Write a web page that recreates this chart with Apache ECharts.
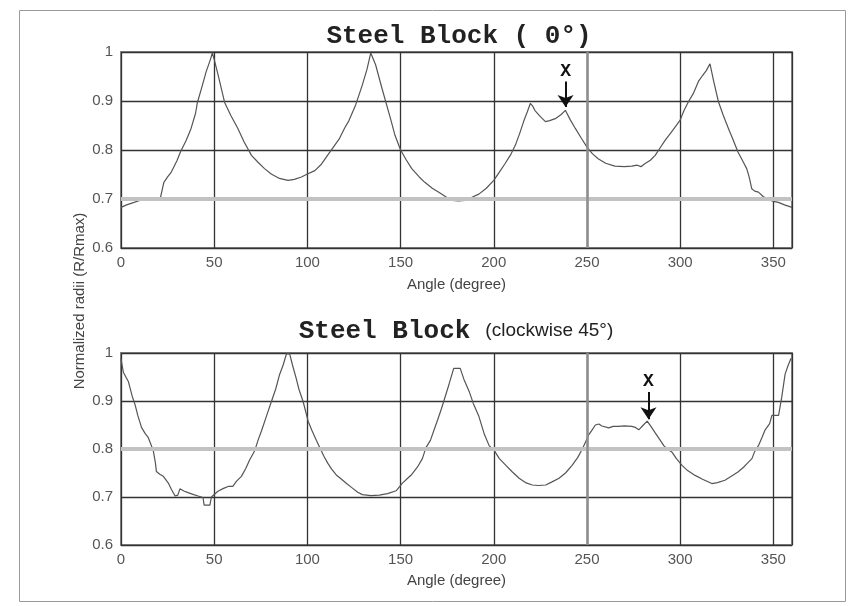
<!DOCTYPE html>
<html>
<head>
<meta charset="utf-8">
<script src="https://cdn.jsdelivr.net/npm/echarts@6/dist/echarts.min.js"></script>
<style>
  html, body { margin: 0; padding: 0; background: #fff; }
  #chart { width: 860px; height: 606px; }
</style>
</head>
<body>
<div id="chart"></div>
<script>
// Normalized radius profiles of a steel block, sampled against angle (degrees)
const topAngle = [0, 3, 7, 10, 12, 14, 16, 18, 21, 22, 23, 25, 27, 30, 32, 35, 37.6, 40, 41, 43.5, 45.7, 48, 49,
  50, 52, 55.6, 59, 62.7, 66, 70, 73.5, 77, 80.6, 85, 89.6, 93, 96.8, 100, 104, 107.5, 111, 114.7, 117, 120,
  122.3, 125.9, 129.5, 132, 134, 136.6, 140, 144.6, 147, 150, 153, 156, 160, 163, 167, 170.5, 174, 177.7, 181,
  184.8, 188, 192, 196, 200, 203, 206, 209, 211.6, 214, 216, 218, 219.6, 221, 222, 225, 227.7, 230, 233, 236,
  238.4, 241, 243.75, 247, 250, 253, 256, 260, 265, 270, 274, 277, 279, 281, 284, 286.6, 289, 292, 296, 300,
  302, 304.5, 307, 309.8, 312, 314, 316, 318, 320.5, 323, 325.9, 328.5, 331, 333.5, 335.7, 337, 338.4, 340,
  342, 344.5, 347, 350, 352.7, 356, 360];
const topRadius = [0.683, 0.688, 0.693, 0.697, 0.699, 0.697, 0.700, 0.697, 0.700, 0.703, 0.734, 0.745, 0.755,
  0.778, 0.797, 0.820, 0.844, 0.875, 0.897, 0.930, 0.960, 0.985, 0.998, 0.985, 0.955, 0.897, 0.870, 0.844,
  0.817, 0.789, 0.775, 0.762, 0.751, 0.742, 0.738, 0.740, 0.745, 0.751, 0.758, 0.771, 0.790, 0.810, 0.822,
  0.845, 0.860, 0.892, 0.933, 0.965, 0.998, 0.974, 0.926, 0.864, 0.830, 0.800, 0.780, 0.762, 0.745, 0.734,
  0.722, 0.714, 0.705, 0.697, 0.696, 0.697, 0.703, 0.710, 0.722, 0.738, 0.755, 0.772, 0.790, 0.810, 0.835,
  0.858, 0.878, 0.895, 0.889, 0.881, 0.868, 0.858, 0.860, 0.864, 0.872, 0.881, 0.862, 0.844, 0.824, 0.806,
  0.792, 0.782, 0.773, 0.767, 0.766, 0.767, 0.769, 0.766, 0.772, 0.779, 0.789, 0.803, 0.820, 0.840, 0.861,
  0.880, 0.899, 0.915, 0.940, 0.952, 0.962, 0.976, 0.940, 0.899, 0.872, 0.844, 0.820, 0.796, 0.778, 0.762,
  0.745, 0.721, 0.716, 0.714, 0.705, 0.700, 0.695, 0.693, 0.688, 0.683];

const bottomAngle = [0, 1.25, 4, 6, 7.5, 9, 11, 13, 14.6, 17.3, 18.5, 19, 21, 22.7, 25.4, 27, 29, 30.5, 31.6,
  34, 36, 39, 41.4, 44, 44.6, 47.7, 48.5, 49, 52, 55, 57.5, 60, 62, 64.6, 67, 69, 71.8, 73.5, 75.4, 78, 80.7,
  83, 85, 87, 88.75, 90.5, 92, 94, 95.5, 97.7, 100.4, 102.5, 104.8, 107, 109, 111, 113, 115.5, 118, 121, 124,
  127, 129.5, 134, 138.6, 143, 147.6, 151, 153.5, 156, 159, 161.7, 163.6, 166, 168, 170, 172, 174, 176, 178.5,
  182, 184, 186.8, 189, 192, 195, 197.5, 200.2, 203, 206.5, 210, 213.6, 217, 220.7, 224, 227.9, 231, 235,
  238.5, 242, 245, 247.5, 249.3, 251, 252.8, 254.5, 256.4, 258, 261.7, 264, 267, 270, 274, 276, 277.8, 280,
  282.3, 284.5, 286.7, 289, 291.2, 293, 295.7, 298, 301, 304, 308, 312, 317, 320, 324, 327, 331, 334, 336,
  338.5, 340, 342, 344, 345.6, 348, 349.2, 352.8, 354.5, 356.3, 358, 359.5];
const bottomRadius = [0.988, 0.960, 0.940, 0.910, 0.893, 0.870, 0.845, 0.832, 0.824, 0.797, 0.770, 0.753,
  0.747, 0.743, 0.729, 0.716, 0.702, 0.704, 0.717, 0.712, 0.709, 0.705, 0.702, 0.699, 0.683, 0.683, 0.700,
  0.702, 0.712, 0.718, 0.722, 0.722, 0.733, 0.743, 0.760, 0.777, 0.797, 0.818, 0.838, 0.868, 0.899, 0.925,
  0.954, 0.975, 0.998, 0.998, 0.975, 0.947, 0.924, 0.899, 0.858, 0.838, 0.818, 0.800, 0.784, 0.770, 0.758,
  0.746, 0.738, 0.728, 0.719, 0.710, 0.705, 0.703, 0.704, 0.707, 0.713, 0.729, 0.738, 0.747, 0.762, 0.780,
  0.803, 0.818, 0.840, 0.862, 0.885, 0.910, 0.935, 0.968, 0.968, 0.945, 0.920, 0.895, 0.868, 0.830, 0.807,
  0.797, 0.780, 0.766, 0.752, 0.739, 0.730, 0.725, 0.724, 0.725, 0.731, 0.739, 0.750, 0.766, 0.782, 0.800,
  0.815, 0.830, 0.840, 0.850, 0.852, 0.848, 0.844, 0.847, 0.847, 0.848, 0.847, 0.845, 0.840, 0.849, 0.858,
  0.846, 0.833, 0.820, 0.807, 0.800, 0.793, 0.780, 0.766, 0.755, 0.745, 0.737, 0.728, 0.730, 0.735, 0.742,
  0.752, 0.762, 0.770, 0.780, 0.795, 0.807, 0.825, 0.840, 0.853, 0.870, 0.870, 0.908, 0.956, 0.975, 0.989];

// Marked position "X" on each profile: [angle, arrow tail radius, arrow tip radius]
const topMark = [238.5, 0.94, 0.888];
const bottomMark = [283, 0.919, 0.862];

const xTicks = { min: 0, max: 360, interval: 50 };
const yTicks = { min: 0.6, max: 1, interval: 0.1 };

const sans = "'Liberation Sans', Arial, sans-serif";
const mono = "'Courier New', 'Liberation Mono', monospace";

function pairs(xs, ys) { return xs.map((x, i) => [x, ys[i]]); }

function xAxisFor(gridIndex, nameGap) {
  return {
    type: 'value', gridIndex, min: xTicks.min, max: xTicks.max, interval: xTicks.interval,
    name: 'Angle (degree)', nameLocation: 'middle', nameGap,
    nameTextStyle: { fontFamily: sans, fontSize: 15, color: '#444' },
    axisLine: { show: false }, axisTick: { show: false },
    axisLabel: { showMaxLabel: false, margin: 7, fontFamily: sans, fontSize: 15, color: '#555' },
    splitLine: { show: true, lineStyle: { color: '#333', width: 1.3 } }
  };
}
function yAxisFor(gridIndex) {
  return {
    type: 'value', gridIndex, min: yTicks.min, max: yTicks.max, interval: yTicks.interval,
    axisLine: { show: false }, axisTick: { show: false },
    axisLabel: { margin: 8, fontFamily: sans, fontSize: 15, color: '#555',
      formatter: v => String(Math.round(v * 10) / 10) },
    splitLine: { show: true, lineStyle: { color: '#333', width: 1.3 } }
  };
}

// Light band on one horizontal grid line, grey 250° line, and the "X" arrow
function markLinesFor(mark, bandY) {
  const xLabel = { show: true, formatter: 'X', position: 'start', distance: 1,
    fontFamily: mono, fontWeight: 'bold', fontSize: 18, color: '#111' };
  return {
    silent: true, symbol: 'none', animation: false,
    label: { show: false },
    data: [
      { yAxis: bandY, lineStyle: { color: '#c2c2c2', width: 4, type: 'solid' } },
      { xAxis: 250, lineStyle: { color: '#8e8e8e', width: 2.5, type: 'solid' } },
      [
        { coord: [mark[0], mark[1]], symbol: 'none', label: xLabel },
        { coord: [mark[0], mark[2]], symbol: 'arrow', symbolSize: 12, label: xLabel }
      ]
    ],
    lineStyle: { color: '#111', width: 2, type: 'solid' }
  };
}

const chart = echarts.init(document.getElementById('chart'), null, { renderer: 'canvas' });
chart.setOption({
  animation: false,
  backgroundColor: '#fff',
  title: [
    { text: 'Steel Block ( 0°)', left: 454, top: 18, textAlign: 'center',
      textStyle: { fontFamily: mono, fontWeight: 'bold', fontSize: 26, color: '#222' } },
    { text: '{a|Steel Block}   {b|(clockwise 45°)}', left: 451, top: 313, textAlign: 'center',
      textStyle: { fontWeight: 'normal', rich: {
        a: { fontFamily: mono, fontWeight: 'bold', fontSize: 26, color: '#222' },
        b: { fontFamily: sans, fontWeight: 'normal', fontSize: 19, color: '#222' } } } }
  ],
  graphic: [
    { type: 'rect', left: 17, top: 8, shape: { width: 826, height: 591 },
      style: { fill: 'none', stroke: '#9a9a9a', lineWidth: 1 }, silent: true, z: -1 },
    { type: 'text', x: 80, y: 301, rotation: Math.PI / 2, silent: true,
      style: { text: 'Normalized radii (R/Rmax)', fontFamily: sans, fontSize: 15, fill: '#444',
        textAlign: 'center', textVerticalAlign: 'middle' } }
  ],
  grid: [
    { left: 121, top: 52, width: 671, height: 196, show: true, borderColor: '#8a8a8a', borderWidth: 2 },
    { left: 121, top: 353, width: 671, height: 192, show: true, borderColor: '#8a8a8a', borderWidth: 2 }
  ],
  xAxis: [xAxisFor(0, 29), xAxisFor(1, 28)],
  yAxis: [yAxisFor(0), yAxisFor(1)],
  series: [
    { type: 'line', xAxisIndex: 0, yAxisIndex: 0, data: pairs(topAngle, topRadius),
      showSymbol: false, lineStyle: { color: '#555', width: 1.2 }, z: 3,
      markLine: markLinesFor(topMark, 0.7) },
    { type: 'line', xAxisIndex: 1, yAxisIndex: 1, data: pairs(bottomAngle, bottomRadius),
      showSymbol: false, lineStyle: { color: '#555', width: 1.2 }, z: 3,
      markLine: markLinesFor(bottomMark, 0.8) }
  ]
});
</script>
</body>
</html>
